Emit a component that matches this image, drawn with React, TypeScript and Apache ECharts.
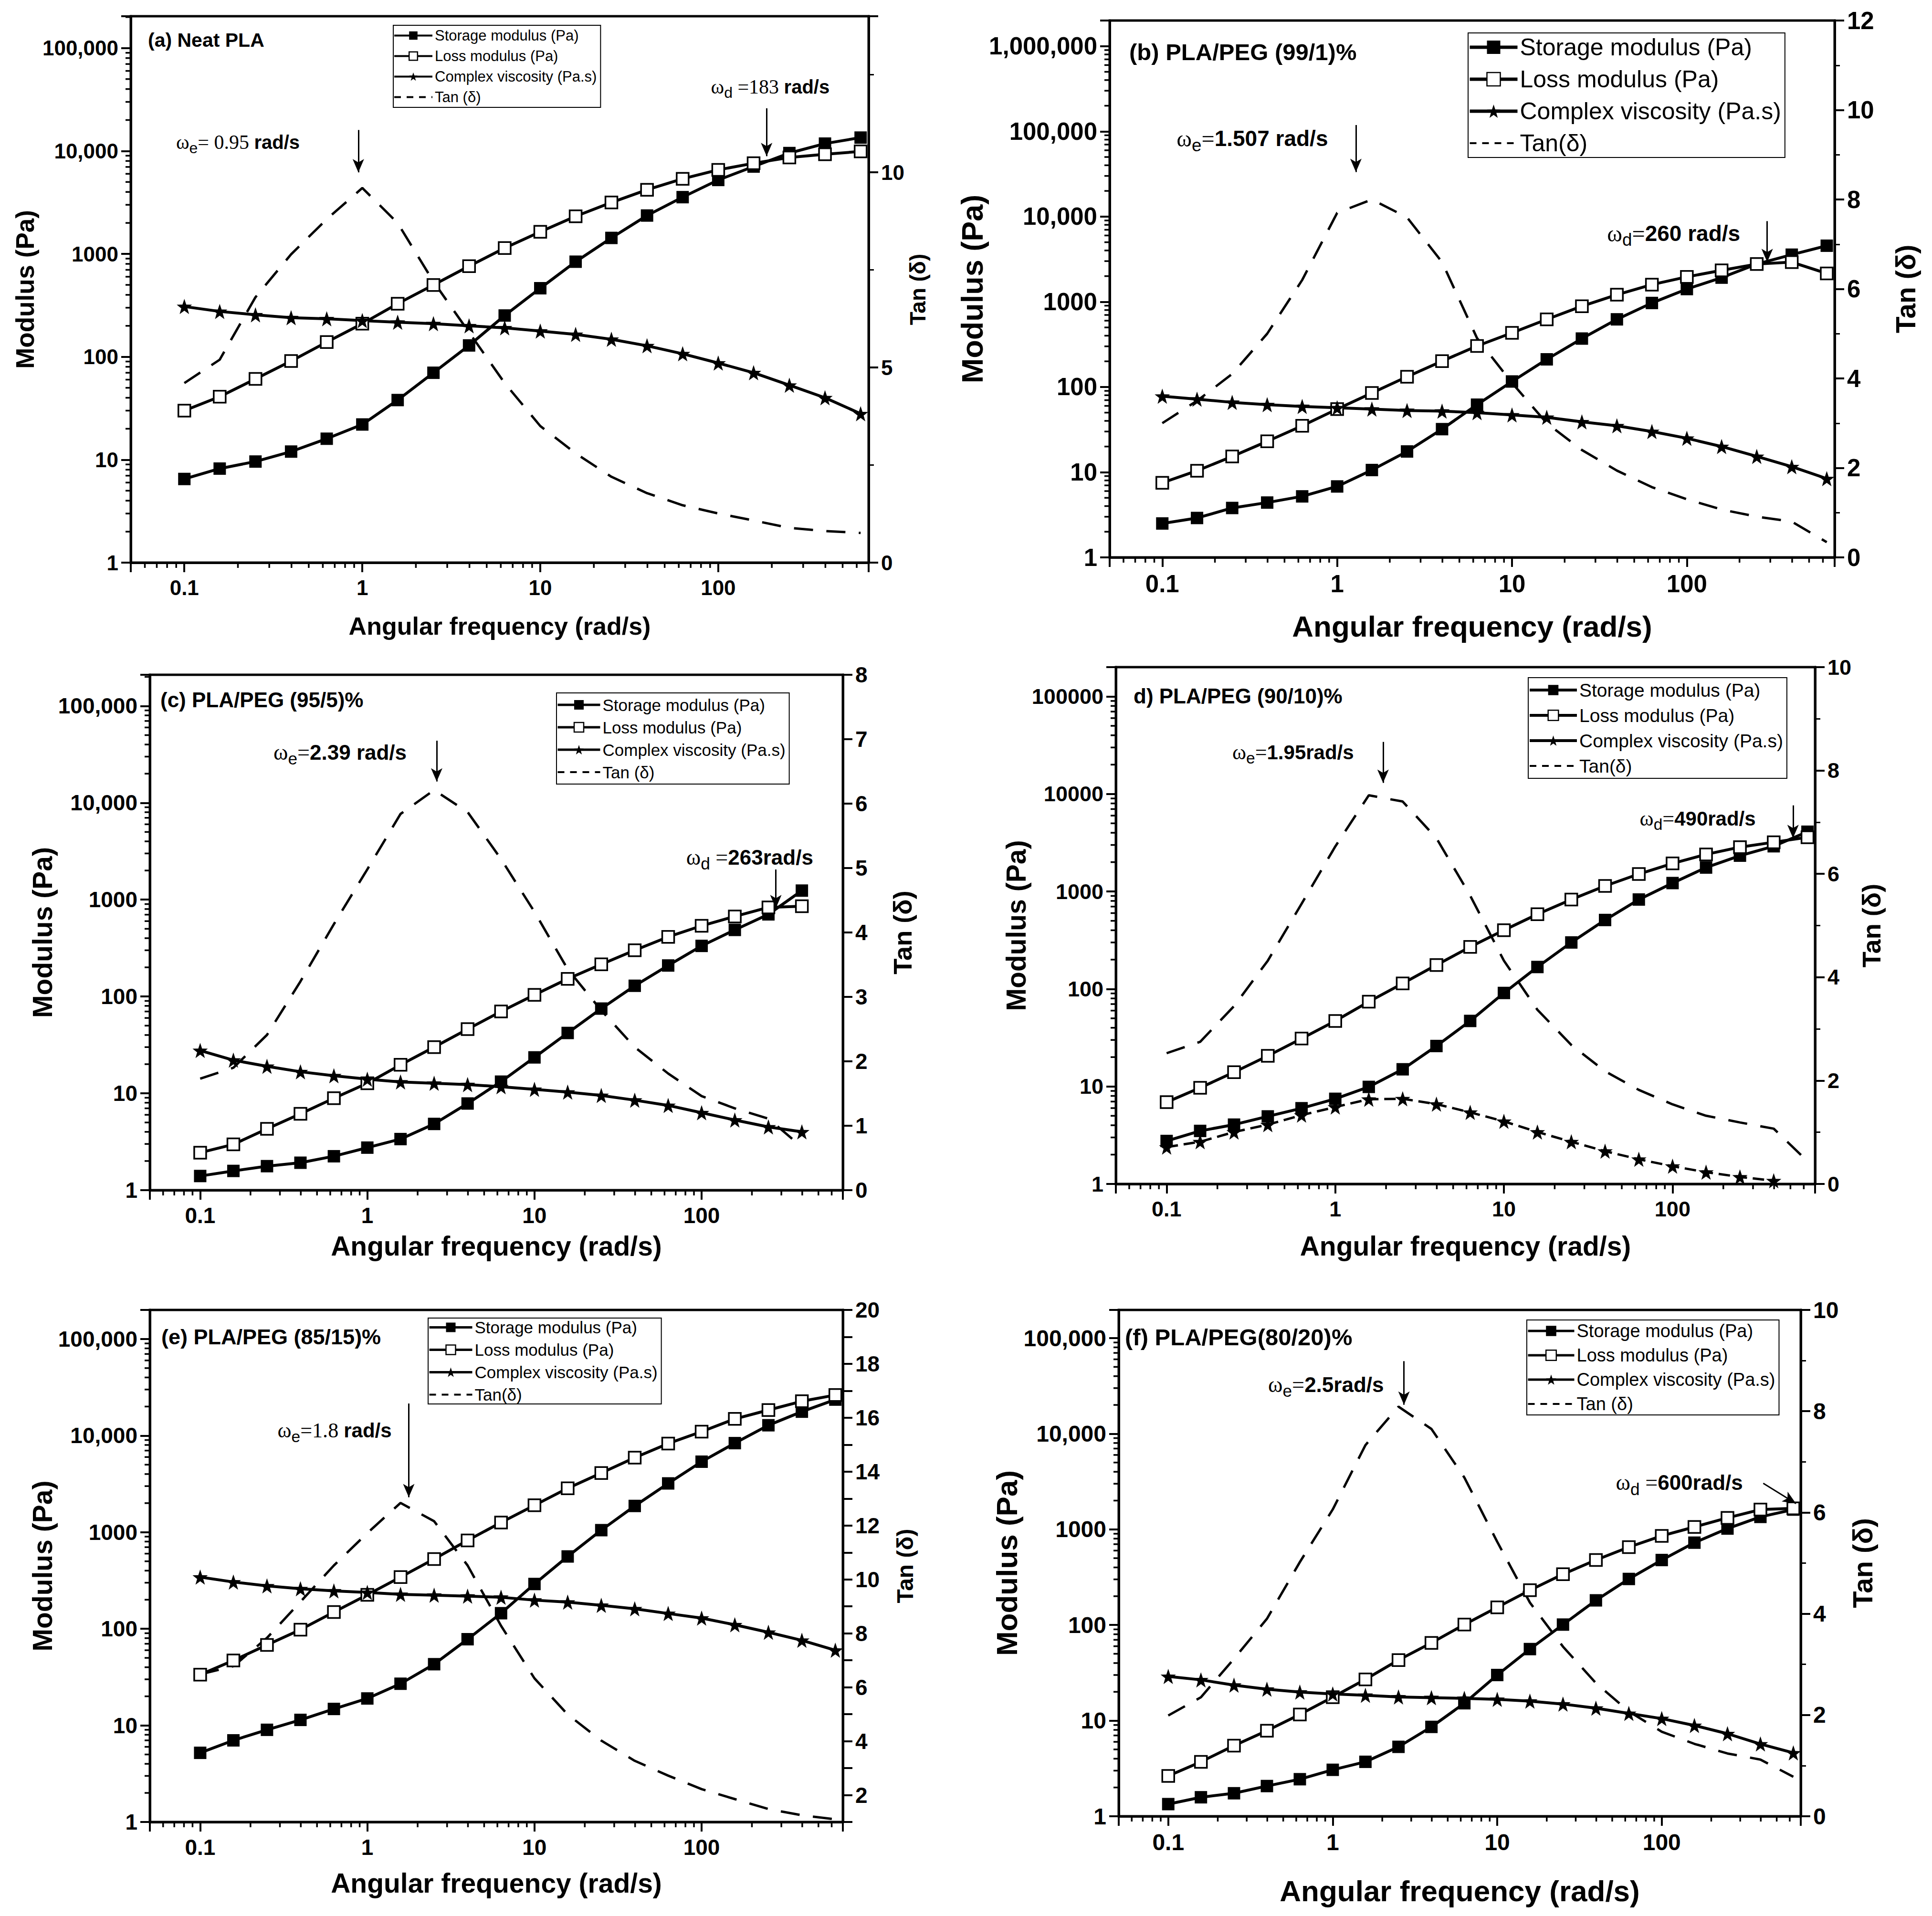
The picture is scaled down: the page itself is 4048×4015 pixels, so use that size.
import { useEffect, useRef } from "react";
import * as echarts from "echarts";

// angular frequency sweep, 5 points per decade (rad/s)
const freq = [0.1, 0.158, 0.251, 0.398, 0.631, 1, 1.58, 2.51, 3.98, 6.31, 10, 15.8, 25.1, 39.8, 63.1, 100, 158, 251, 398, 631];

// (a) Neat PLA
const aStorage = [6.5, 8.2, 9.6, 12, 16, 22, 38, 70, 129, 252, 464, 840, 1430, 2360, 3560, 5230, 7060, 9550, 11800, 13500];
const aLoss = [30, 41, 61, 91, 139, 210, 328, 499, 760, 1140, 1640, 2320, 3160, 4200, 5370, 6560, 7600, 8650, 9290, 9910];
const aViscosity = [308, 276, 256, 240, 234, 225, 217, 210, 200, 191, 178, 165, 148, 128, 107, 87, 70, 53, 40, 28];
const aTan = [4.6, 5.2, 6.8, 7.9, 8.8, 9.6, 8.7, 7.2, 5.9, 4.6, 3.5, 2.8, 2.2, 1.78, 1.47, 1.26, 1.08, 0.89, 0.81, 0.76];

// (b) PLA/PEG 99/1
const bStorage = [2.5, 2.9, 3.8, 4.4, 5.2, 6.8, 10.6, 17.5, 32, 62, 116, 211, 370, 622, 968, 1410, 1920, 2770, 3570, 4550];
const bLoss = [7.5, 10.4, 15.3, 23, 35, 55, 85, 132, 201, 303, 432, 622, 887, 1210, 1590, 1960, 2340, 2770, 2920, 2150];
const bViscosity = [78, 72, 66, 62, 59, 57, 55, 53, 52, 50, 47, 44, 39, 35, 30, 25, 20, 15.3, 11.6, 8.4];
const bTan = [3.0, 3.5, 4.1, 5.0, 6.2, 7.7, 8.0, 7.6, 6.6, 4.9, 3.9, 3.0, 2.4, 1.94, 1.57, 1.3, 1.07, 0.91, 0.8, 0.34];

// (c) PLA/PEG 95/5
const cStorage = [1.4, 1.58, 1.77, 1.92, 2.24, 2.75, 3.37, 4.83, 7.85, 13.2, 23.5, 42, 75, 129, 209, 333, 487, 705, 1240];
const cLoss = [2.44, 2.97, 4.3, 6.15, 8.9, 12.7, 19.7, 30, 46, 70, 104, 152, 215, 300, 413, 537, 671, 832, 856];
const cViscosity = [27.7, 22, 19, 16.7, 15.2, 14, 13.1, 12.7, 12.3, 11.7, 11, 10.3, 9.5, 8.5, 7.5, 6.3, 5.3, 4.5, 4.0];
const cTan = [1.73, 1.9, 2.41, 3.24, 4.13, 4.98, 5.84, 6.21, 5.87, 5.14, 4.32, 3.43, 2.79, 2.22, 1.81, 1.46, 1.27, 1.11, 0.67];

// (d) PLA/PEG 90/10
const dStorage = [2.76, 3.5, 4.06, 4.93, 5.98, 7.47, 9.9, 15, 26, 47, 91, 168, 300, 510, 827, 1220, 1760, 2330, 2910, 4100];
const dLoss = [6.9, 9.7, 14, 20.6, 31, 47, 74, 114, 176, 270, 401, 585, 827, 1140, 1510, 1940, 2400, 2850, 3200, 3600];
const dViscosity = [2.39, 2.71, 3.41, 4.06, 5.08, 6.15, 7.4, 7.47, 6.59, 5.43, 4.39, 3.41, 2.71, 2.17, 1.79, 1.52, 1.32, 1.18, 1.08];
const dTan = [2.53, 2.75, 3.44, 4.32, 5.42, 6.53, 7.52, 7.4, 6.69, 5.58, 4.32, 3.37, 2.69, 2.18, 1.82, 1.54, 1.32, 1.19, 1.07, 0.44];

// (e) PLA/PEG 85/15
const eStorage = [5.2, 7, 9, 11.4, 14.8, 19, 27, 43, 78, 145, 291, 561, 1050, 1870, 3200, 5370, 8360, 12800, 17700, 23600];
const eLoss = [33.5, 47, 68, 98, 149, 225, 343, 528, 823, 1260, 1900, 2850, 4100, 5910, 8280, 11000, 14900, 18400, 22700, 26300];
const eViscosity = [343, 305, 278, 260, 247, 238, 227, 223, 218, 212, 198, 189, 175, 161, 144, 129, 110, 92, 76, 60];
const eTan = [6.48, 6.78, 7.83, 9.17, 10.52, 11.72, 12.84, 12.16, 10.52, 8.28, 6.33, 4.99, 4.02, 3.27, 2.72, 2.22, 1.85, 1.48, 1.25, 1.1];

// (f) PLA/PEG 80/20
const fStorage = [1.34, 1.58, 1.74, 2.07, 2.44, 3.06, 3.71, 5.32, 8.6, 15.2, 30, 56, 101, 181, 303, 478, 726, 1020, 1350, 1610];
const fLoss = [2.64, 3.71, 5.48, 7.85, 11.6, 17.6, 27, 43, 65, 101, 153, 231, 340, 478, 652, 855, 1060, 1320, 1610, 1660];
const fViscosity = [29, 26.7, 23.5, 21.3, 19.9, 19, 18.4, 17.7, 17.4, 17.1, 16.7, 16, 14.9, 13.5, 11.9, 10.5, 8.9, 7.3, 5.7, 4.6];
const fTan = [1.99, 2.35, 3.11, 3.9, 5.02, 6.06, 7.33, 8.09, 7.65, 6.69, 5.42, 4.22, 3.35, 2.63, 2.07, 1.67, 1.43, 1.24, 1.12, 0.78];

// arrows [x1, y1, x2, y2] and labels in data units (frequency, modulus)
const aArrows = [[0.95, 16000, 0.95, 6200], [187, 26000, 187, 8900]];
const bArrows = [[1.28, 118700, 1.28, 33300], [288, 8840, 288, 2925]];
const cArrows = [[2.6, 43800, 2.6, 16600], [278, 2050, 278, 815]];
const dArrows = [[1.92, 34200, 1.92, 13000], [518, 7640, 518, 3530]];
const eArrows = [[1.77, 21500, 1.77, 2300]];
const fArrows = [[2.71, 57400, 2.71, 20100], [414, 3030, 655, 1862]];

const aNotes = [
  { at: [0.2, 12200], sub: "e", serif: "= 0.95 ", bold: "rad/s" },
  { at: [196, 42000], sub: "d", serif: " =183 ", bold: "rad/s" },
];
const bNotes = [
  { at: [0.327, 82400], sub: "e", serif: "=", bold: "1.507 rad/s" },
  { at: [84, 6340], sub: "d", serif: "=", bold: "260 rad/s" },
];
const cNotes = [
  { at: [0.687, 33400], sub: "e", serif: "=", bold: "2.39 rad/s" },
  { at: [194, 2750], sub: "d", serif: " =", bold: "263rad/s" },
];
const dNotes = [
  { at: [0.562, 26900], sub: "e", serif: "=", bold: "1.95rad/s" },
  { at: [141, 5610], sub: "d", serif: "=", bold: "490rad/s" },
];
const eNotes = [{ at: [0.637, 11300], sub: "e", serif: "=1.8 ", bold: "rad/s" }];
const fNotes = [
  { at: [0.91, 32700], sub: "e", serif: "=", bold: "2.5rad/s" },
  { at: [128, 3080], sub: "d", serif: " =", bold: "600rad/s" },
];

const panels = [
  { title: "(a) Neat PLA", storage: aStorage, loss: aLoss, viscosity: aViscosity, tan: aTan, tanName: "Tan (δ)", arrows: aArrows, notes: aNotes },
  { title: "(b) PLA/PEG (99/1)%", storage: bStorage, loss: bLoss, viscosity: bViscosity, tan: bTan, tanName: "Tan(δ)", arrows: bArrows, notes: bNotes },
  { title: "(c) PLA/PEG (95/5)%", storage: cStorage, loss: cLoss, viscosity: cViscosity, tan: cTan, tanName: "Tan (δ)", arrows: cArrows, notes: cNotes },
  { title: "d) PLA/PEG (90/10)%", storage: dStorage, loss: dLoss, viscosity: dViscosity, tan: dTan, tanName: "Tan(δ)", arrows: dArrows, notes: dNotes },
  { title: "(e) PLA/PEG (85/15)%", storage: eStorage, loss: eLoss, viscosity: eViscosity, tan: eTan, tanName: "Tan(δ)", arrows: eArrows, notes: eNotes },
  { title: "(f) PLA/PEG(80/20)%", storage: fStorage, loss: fLoss, viscosity: fViscosity, tan: fTan, tanName: "Tan (δ)", arrows: fArrows, notes: fNotes },
];

// page layout, in pixels
const layouts = [
  { grid: [274, 34, 1546, 1145], yMax: 2.04e5, tan: [0, 14, 5], comma: true, tick: 44, xTitle: [52, 107], yTitle: [53, 195], tTitle: [46, 80], head: [310, 86, 41], note: 40, legend: [824, 53, 31, 80, 43, 172], dashedVisc: false },
  { grid: [2325, 43, 1519, 1125], yMax: 2e6, tan: [0, 12, 2], comma: true, tick: 51, xTitle: [62, 113], yTitle: [63, 250], tTitle: [57, 120], head: [2366, 111, 49], note: 46, legend: [3076, 69, 50, 100, 67, 261], dashedVisc: false },
  { grid: [314, 1414, 1452, 1080], yMax: 2.1e5, tan: [0, 8, 1], comma: true, tick: 46, xTitle: [57, 88], yTitle: [57, 196], tTitle: [54, 98], head: [336, 1469, 44], note: 44, legend: [1166, 1452, 35, 89, 47, 191], dashedVisc: false },
  { grid: [2338, 1398, 1465, 1083], yMax: 2e5, tan: [0, 10, 2], comma: false, tick: 45, xTitle: [57, 101], yTitle: [57, 176], tTitle: [54, 91], head: [2375, 1461, 44], note: 42, legend: [3202, 1420, 39, 99, 53, 211], dashedVisc: true },
  { grid: [314, 2745, 1452, 1073], yMax: 2e5, tan: [1, 20, 1], comma: true, tick: 46, xTitle: [57, 99], yTitle: [57, 176], tTitle: [48, 106], head: [338, 2804, 45], note: 42, legend: [897, 2762, 35, 90, 47, 180], dashedVisc: false },
  { grid: [2344, 2745, 1429, 1061], yMax: 1.97e5, tan: [0, 10, 2], comma: true, tick: 48, xTitle: [62, 125], yTitle: [62, 179], tTitle: [58, 100], head: [2357, 2804, 49], note: 44, legend: [3199, 2766, 38, 97, 51, 199], dashedVisc: false },
];

const SANS = "Liberation Sans";
const SERIF = "Liberation Serif";
const X_MIN = 0.05;
const X_MAX = 700;
const STAR =
  "path://M0,-10L2.35,-3.24L9.51,-3.09L3.8,1.24L5.88,8.09L0,4L-5.88,8.09L-3.8,1.24L-9.51,-3.09L-2.35,-3.24Z";

const isDecade = (v: number) => {
  const l = Math.log10(v);
  return Math.abs(l - Math.round(l)) < 1e-6;
};

// minor ticks of a log axis (2..9 within each decade)
const logMinors = (lo: number, hi: number) => {
  const out: number[] = [];
  for (let e = -3; e <= 7; e++) {
    for (let m = 2; m <= 9; m++) {
      const v = m * Math.pow(10, e);
      if (v > lo * 1.001 && v < hi * 0.999) out.push(v);
    }
  }
  return out;
};

const pts = (ys: number[]) => ys.map((y, i) => [freq[i], y]);

const App = () => {
  const chartRef = useRef<HTMLDivElement>(null);

  useEffect(() => {
    if (!chartRef.current) return;
    const chart = echarts.init(chartRef.current, null, { renderer: "svg" });

    const grid: any[] = [];
    const xAxis: any[] = [];
    const yAxis: any[] = [];
    const series: any[] = [];
    const legend: any[] = [];
    const graphic: any[] = [];

    layouts.forEach((L, i) => {
      const P = panels[i];
      const [gl, gt, gw, gh] = L.grid;
      grid.push({ left: gl, top: gt, width: gw, height: gh, show: true, borderColor: "#000", borderWidth: 5, backgroundColor: "transparent" });

      const axisLine = { show: true, lineStyle: { color: "#000", width: 5 } };
      const axisTick = { show: true, inside: false, length: 20, lineStyle: { color: "#000", width: 4 } };

      xAxis.push({
        type: "log",
        gridIndex: i,
        min: X_MIN,
        max: X_MAX,
        name: "Angular frequency (rad/s)",
        nameLocation: "middle",
        nameGap: L.xTitle[1],
        nameTextStyle: { fontFamily: SANS, fontWeight: "bold", fontSize: L.xTitle[0], color: "#000" },
        axisLine,
        axisTick,
        splitLine: { show: false },
        axisLabel: {
          margin: 30,
          fontFamily: SANS,
          fontWeight: "bold",
          fontSize: L.tick,
          color: "#000",
          formatter: (v: number) => (isDecade(v) ? String(Number(v.toPrecision(1))) : ""),
        },
      });

      yAxis.push({
        type: "log",
        gridIndex: i,
        min: 1,
        max: L.yMax,
        name: "Modulus (Pa)",
        nameLocation: "middle",
        nameRotate: 90,
        nameGap: L.yTitle[1],
        nameTextStyle: { fontFamily: SANS, fontWeight: "bold", fontSize: L.yTitle[0], color: "#000" },
        axisLine,
        axisTick,
        splitLine: { show: false },
        axisLabel: {
          margin: 26,
          fontFamily: SANS,
          fontWeight: "bold",
          fontSize: L.tick,
          color: "#000",
          formatter: (v: number) => {
            if (!isDecade(v)) return "";
            const n = Math.round(v);
            return L.comma && n >= 10000 ? n.toLocaleString("en-US") : String(n);
          },
        },
      });

      const [tMin, tMax, tStep] = L.tan;
      yAxis.push({
        type: "value",
        gridIndex: i,
        position: "right",
        min: tMin,
        max: tMax,
        interval: tStep,
        name: "Tan (δ)",
        nameLocation: "middle",
        nameRotate: 90,
        nameGap: L.tTitle[1],
        nameTextStyle: { fontFamily: SANS, fontWeight: "bold", fontSize: L.tTitle[0], color: "#000" },
        axisLine,
        axisTick,
        minorTick: { show: tStep > 1, splitNumber: 2, length: 11, lineStyle: { color: "#000", width: 3 } },
        splitLine: { show: false },
        axisLabel: {
          margin: 26,
          fontFamily: SANS,
          fontWeight: "bold",
          fontSize: L.tick,
          color: "#000",
          formatter: (v: number) => {
            if (tStep === 1 && tMin === 1) return v % 2 === 0 ? String(v) : "";
            return Math.abs(v / tStep - Math.round(v / tStep)) < 1e-6 ? String(v) : "";
          },
        },
      });

      const base = { xAxisIndex: i, yAxisIndex: 2 * i, type: "line", z: 3 };
      series.push({
        ...base,
        name: "Storage modulus (Pa)",
        data: pts(P.storage),
        symbol: "rect",
        symbolSize: 26,
        itemStyle: { color: "#000" },
        lineStyle: { color: "#000", width: 6 },
        markLine: {
          silent: true,
          symbol: ["none", "arrow"],
          symbolSize: [18, 28],
          lineStyle: { color: "#000", width: 3, type: "solid" },
          label: { show: false },
          data: P.arrows.map((a) => [{ coord: [a[0], a[1]] }, { coord: [a[2], a[3]] }]),
        },
        markPoint: {
          silent: true,
          symbol: "circle",
          symbolSize: 1,
          itemStyle: { color: "rgba(0,0,0,0)" },
          label: {
            show: true,
            position: "inside",
            color: "#000",
            rich: {
              w: { fontFamily: SERIF, fontSize: L.note * 1.05, lineHeight: L.note * 1.4, color: "#000" },
              s: { fontFamily: SANS, fontSize: L.note * 0.8, lineHeight: L.note * 0.8, verticalAlign: "bottom", color: "#000" },
              n: { fontFamily: SERIF, fontSize: L.note * 1.05, lineHeight: L.note * 1.4, color: "#000" },
              b: { fontFamily: SANS, fontWeight: "bold", fontSize: L.note, lineHeight: L.note * 1.4, color: "#000" },
            },
          },
          data: P.notes.map((n) => ({
            coord: n.at,
            label: { formatter: `{w|ω}{s|${n.sub}}{n|${n.serif}}{b|${n.bold}}` },
          })),
        },
      });
      series.push({
        ...base,
        name: "Loss modulus (Pa)",
        data: pts(P.loss),
        symbol: "rect",
        symbolSize: 25,
        itemStyle: { color: "#fff", borderColor: "#000", borderWidth: 3.5 },
        lineStyle: { color: "#000", width: 6 },
      });
      series.push({
        ...base,
        name: "Complex viscosity (Pa.s)",
        data: pts(P.viscosity),
        symbol: STAR,
        symbolSize: 32,
        itemStyle: { color: "#000" },
        lineStyle: L.dashedVisc ? { color: "#000", width: 5, type: [24, 12] } : { color: "#000", width: 6 },
      });
      series.push({
        type: "line",
        xAxisIndex: i,
        yAxisIndex: 2 * i + 1,
        name: P.tanName,
        data: pts(P.tan),
        symbol: "none",
        z: 2,
        itemStyle: { color: "#000" },
        lineStyle: { color: "#000", width: 5, type: [40, 28] },
      });

      // log minor ticks, drawn through the axes' own scales
      const ticks = [
        ...logMinors(X_MIN, X_MAX).map((v) => [v, 1, 0]),
        ...logMinors(1, L.yMax).map((v) => [X_MIN, v, 1]),
      ];
      series.push({
        type: "custom",
        xAxisIndex: i,
        yAxisIndex: 2 * i,
        silent: true,
        clip: false,
        z: 4,
        data: ticks,
        renderItem: (params: any, api: any) => {
          const p = api.coord([api.value(0), api.value(1)]);
          const cs = params.coordSys;
          const style = { stroke: "#000", lineWidth: 3.5 };
          if (api.value(2) === 0) {
            const y0 = cs.y + cs.height;
            return { type: "line", shape: { x1: p[0], y1: y0, x2: p[0], y2: y0 + 11 }, style };
          }
          return { type: "line", shape: { x1: cs.x, y1: p[1], x2: cs.x - 11, y2: p[1] }, style };
        },
      });

      const [ll, lt, lf, lw, lsp, lh] = L.legend;
      const gap = lsp - lf;
      const padV = Math.max(0, (lh - (4 * lf + 3 * gap)) / 2);
      const hidden = { color: "rgba(0,0,0,0)", borderColor: "rgba(0,0,0,0)", borderWidth: 0, opacity: 0 };
      const lineW = Math.max(4, Math.round(lf / 7));
      legend.push({
        orient: "vertical",
        left: ll,
        top: lt,
        padding: [padV, 8, padV, 0],
        borderColor: "#000",
        borderWidth: 2,
        itemWidth: lw,
        itemHeight: Math.round(lf * 0.7),
        itemGap: gap,
        selectedMode: false,
        lineStyle: { width: lineW },
        textStyle: { fontFamily: SANS, fontSize: lf, color: "#000" },
        data: [
          { name: "Storage modulus (Pa)", lineStyle: { width: lineW } },
          { name: "Loss modulus (Pa)", lineStyle: { width: lineW }, itemStyle: { borderWidth: 2.5 } },
          { name: "Complex viscosity (Pa.s)", lineStyle: { width: lineW, type: "solid" } },
          { name: P.tanName, itemStyle: hidden, lineStyle: { width: 4, type: [14, 12], color: "#000", opacity: 1 } },
        ],
      });

      graphic.push({
        type: "text",
        left: L.head[0],
        top: L.head[1] - L.head[2] * 0.55,
        style: { text: P.title, font: `bold ${L.head[2]}px "${SANS}"`, fill: "#000" },
      });
    });

    chart.setOption({
      animation: false,
      backgroundColor: "#fff",
      grid,
      xAxis,
      yAxis,
      series,
      legend,
      graphic,
    });

    return () => {
      chart.dispose();
    };
  }, []);

  return <div ref={chartRef} style={{ position: "fixed", left: 0, top: 0, width: "4048px", height: "4015px" }} />;
};

export default App;
